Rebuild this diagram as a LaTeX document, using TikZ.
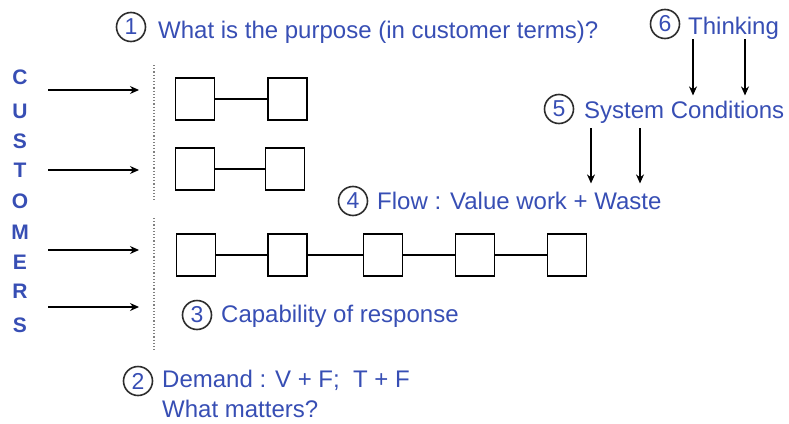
\documentclass[tikz,border=0pt]{standalone}
\usepackage{fontspec}
\setmainfont{Liberation Sans}
\usetikzlibrary{arrows.meta,positioning}
\definecolor{txtblue}{RGB}{55,78,180}
\definecolor{ringgray}{RGB}{45,45,45}
\tikzset{
  stage/.style={draw, line width=1.6pt, minimum width=39pt, minimum height=42pt, inner sep=0pt},
  link/.style={line width=1.2pt},
  arr/.style={line width=1.2pt, -{Stealth[length=9pt,width=8pt]}},
  num/.style={circle, draw=ringgray, line width=1.6pt, minimum size=29pt, inner sep=0pt, text=txtblue, font=\fontsize{23pt}{23pt}\selectfont},
  lbl/.style={anchor=base west, inner sep=0pt, text=txtblue, font=\fontsize{24pt}{30pt}\selectfont},
  cust/.style={inner sep=0pt, text=txtblue, font=\bfseries\fontsize{21pt}{21pt}\selectfont},
  sep/.style={draw=gray, dotted, line width=1.2pt}
}
\begin{document}
\begin{tikzpicture}[x=1pt, y=-1pt]
    \useasboundingbox (0,0) rectangle (789,423);

    % Customers down the left side
    \foreach \ch/\y [count=\i] in {C/77,U/111,S/141,T/170,O/201,M/232,E/262,R/291,S/325}
        \node[cust] (cust\i) at (20,\y) {\ch};

    % Customer arrows
    \foreach \y [count=\i] in {90,170,250,307} {
        \coordinate (in\i) at (48,\y);
        \coordinate (out\i) at (139,\y);
        \draw[arr] (in\i) -- (out\i);
    }

    % Dotted separators
    \coordinate (sepA) at (154,65);
    \coordinate (sepB) at (154,200);
    \coordinate (sepC) at (154,218);
    \coordinate (sepD) at (154,352);
    \draw[sep] (sepA) -- (sepB);
    \draw[sep] (sepC) -- (sepD);

    % Short chains
    \node[stage] (b11) at (195,99) {};
    \node[stage] (b12) at (287.5,99) {};
    \draw[link] (b11) -- (b12);
    \node[stage] (b21) at (195,169) {};
    \node[stage] (b22) at (285,169) {};
    \draw[link] (b21) -- (b22);

    % Long chain
    \node[stage] (b31) at (196,255) {};
    \node[stage] (b32) at (287.5,255) {};
    \node[stage] (b33) at (383,255) {};
    \node[stage] (b34) at (475,255) {};
    \node[stage] (b35) at (567,255) {};
    \draw[link] (b31) -- (b32) -- (b33) -- (b34) -- (b35);

    % Numbered questions
    \node[num] (n1) at (131,27) {1};
    \node[lbl] (purpose) at (158,38) {What is the purpose (in customer terms)?};

    \node[num] (n6) at (665,24) {6};
    \node[lbl] (think) at (688,34) {Thinking};

    \node[num] (n5) at (559,109) {5};
    \node[lbl] (syscond) at (584,118) {System Conditions};

    \node[num] (n4) at (353,201) {4};
    \node[lbl] (flow) at (377,209) {Flow : Value work + Waste};

    \node[num] (n3) at (197,315) {3};
    \node[lbl] (capab) at (221,322) {Capability of response};

    \node[num] (n2) at (138,381) {2};
    \node[lbl] (demand) at (162,387) {Demand : V + F;\ \ T + F};
    \node[lbl] (matters) at (162,417) {What matters?};

    % Thinking shapes the system, the system shapes the flow
    \draw[arr, shorten >=5pt] ([xshift=5pt]think.south west) -- ([xshift=5pt]think.south west |- syscond.north);
    \draw[arr, shorten >=5pt] ([xshift=57pt]think.south west) -- ([xshift=57pt]think.south west |- syscond.north);
    \draw[arr, shorten <=5pt, shorten >=8pt] ([xshift=7pt]syscond.south west) -- ([xshift=7pt]syscond.south west |- flow.north);
    \draw[arr, shorten <=5pt, shorten >=8pt] ([xshift=56pt]syscond.south west) -- ([xshift=56pt]syscond.south west |- flow.north);
\end{tikzpicture}
\end{document}
